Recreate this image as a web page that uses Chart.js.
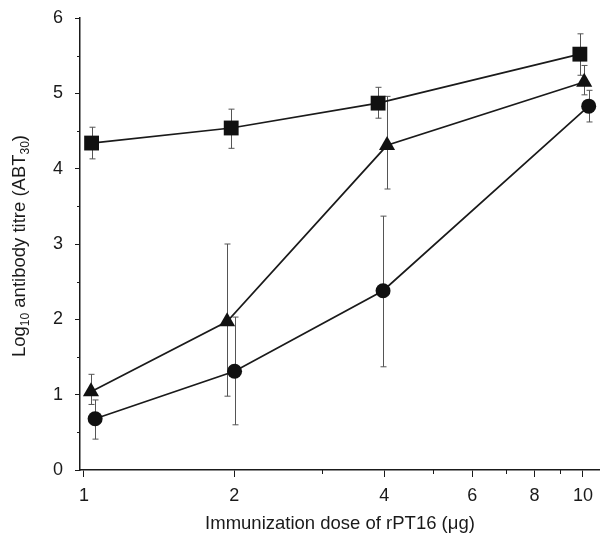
<!DOCTYPE html>
<html><head><meta charset="utf-8">
<script src="https://cdn.jsdelivr.net/npm/chart.js@4.4.1/dist/chart.umd.min.js"></script>
<style>html,body{margin:0;padding:0;background:#fff}#wrap{width:600px;height:536px;position:relative}</style>
</head><body><div id="wrap"><canvas id="c"></canvas></div>
<script>
const xTicks = [1, 2, 4, 6, 8, 10];
const xMinorTicks = [3, 5, 7, 9];
const yTicks = [0, 1, 2, 3, 4, 5, 6];
const yMinorTicks = [0.5, 1.5, 2.5, 3.5, 4.5, 5.5];

const squareX = [1.036, 1.973, 3.886, 9.86];
const squareY = [4.34, 4.54, 4.87, 5.52];
const squareHi = [4.55, 4.79, 5.08, 5.79];
const squareLo = [4.13, 4.27, 4.67, 5.24];

const triangleX = [1.033, 1.936, 4.05, 10.06];
const triangleY = [1.04, 1.97, 4.31, 5.15];
const triangleHi = [1.27, 3.00, 4.96, 5.37];
const triangleLo = [0.87, 0.98, 3.73, 4.98];

const circleX = [1.053, 2.004, 3.976, 10.27];
const circleY = [0.68, 1.31, 2.38, 4.83];
const circleHi = [0.93, 2.03, 3.37, 5.04];
const circleLo = [0.41, 0.60, 1.37, 4.62];

const FONT = "'Liberation Sans', Arial, Helvetica, sans-serif";
const INK = '#1a1a1a';

function pts(xs, ys) { return xs.map((x, i) => ({ x: x, y: ys[i] })); }

const series = [
  { x: squareX, y: squareY, hi: squareHi, lo: squareLo, style: 'rect', r: 10.5 },
  { x: triangleX, y: triangleY, hi: triangleHi, lo: triangleLo, style: 'triangle', r: 9.3 },
  { x: circleX, y: circleY, hi: circleHi, lo: circleLo, style: 'circle', r: 7.5 }
];

const errorBars = {
  id: 'errorBars',
  beforeDatasetsDraw(chart) {
    const ctx = chart.ctx, xs = chart.scales.x, ys = chart.scales.y;
    ctx.save();
    ctx.strokeStyle = '#555';
    ctx.lineWidth = 1;
    series.forEach(s => {
      s.x.forEach((xv, i) => {
        const px = Math.round(xs.getPixelForValue(xv)) + 0.5;
        const ph = ys.getPixelForValue(s.hi[i]);
        const pl = ys.getPixelForValue(s.lo[i]);
        ctx.beginPath();
        ctx.moveTo(px, ph); ctx.lineTo(px, pl);
        ctx.moveTo(px - 3, ph); ctx.lineTo(px + 3, ph);
        ctx.moveTo(px - 3, pl); ctx.lineTo(px + 3, pl);
        ctx.stroke();
      });
    });
    ctx.restore();
  }
};

const decor = {
  id: 'decor',
  afterDraw(chart) {
    const ctx = chart.ctx, xs = chart.scales.x, ys = chart.scales.y, ca = chart.chartArea;
    ctx.save();
    ctx.strokeStyle = INK;
    ctx.lineWidth = 1;
    ctx.beginPath();
    xMinorTicks.forEach(v => {
      const px = Math.round(xs.getPixelForValue(v)) + 0.5;
      ctx.moveTo(px, ca.bottom); ctx.lineTo(px, ca.bottom + 4);
    });
    yMinorTicks.forEach(v => {
      const py = Math.round(ys.getPixelForValue(v)) + 0.5;
      ctx.moveTo(ca.left, py); ctx.lineTo(ca.left - 3, py);
    });
    ctx.stroke();

    ctx.fillStyle = INK;
    ctx.textBaseline = 'alphabetic';
    // x title
    ctx.font = '18.5px ' + FONT;
    ctx.textAlign = 'center';
    ctx.fillText('Immunization dose of rPT16 (\u03bcg)', (ca.left + ca.right) / 2, 529);

    // y title with subscripts
    const parts = [
      { t: 'Log', sub: false }, { t: '10', sub: true },
      { t: ' antibody titre (ABT', sub: false }, { t: '30', sub: true },
      { t: ')', sub: false }
    ];
    const big = '18.5px ' + FONT, small = '12px ' + FONT;
    let total = 0;
    parts.forEach(p => { ctx.font = p.sub ? small : big; p.w = ctx.measureText(p.t).width; total += p.w; });
    ctx.translate(25, 246);
    ctx.rotate(-Math.PI / 2);
    ctx.textAlign = 'left';
    let cx = -total / 2;
    parts.forEach(p => {
      ctx.font = p.sub ? small : big;
      ctx.fillText(p.t, cx, p.sub ? 4 : 0);
      cx += p.w;
    });
    ctx.restore();
  }
};

new Chart(document.getElementById('c'), {
  type: 'line',
  data: {
    datasets: series.map(s => ({
      data: pts(s.x, s.y),
      showLine: true,
      borderColor: INK,
      borderWidth: 1.7,
      tension: 0,
      pointStyle: s.style,
      pointRadius: s.r,
      pointHoverRadius: s.r,
      pointBackgroundColor: '#111',
      pointBorderColor: '#111',
      pointBorderWidth: 0,
      clip: false
    }))
  },
  options: {
    responsive: true,
    maintainAspectRatio: false,
    animation: false,
    events: [],
    layout: { autoPadding: false, padding: { top: 18, left: 0, right: 0, bottom: 0 } },
    plugins: { legend: { display: false }, tooltip: { enabled: false }, title: { display: false } },
    scales: {
      x: {
        type: 'logarithmic',
        min: 0.982,
        max: 10.82,
        afterBuildTicks(scale) { scale.ticks = xTicks.map(v => ({ value: v })); },
        afterFit(scale) { scale.height = 66; scale.paddingLeft = 0; scale.paddingRight = 0; },
        ticks: {
          autoSkip: false, maxRotation: 0,
          color: INK,
          font: { family: FONT, size: 18 },
          padding: 8,
          callback: v => String(v)
        },
        grid: { display: true, drawOnChartArea: false, drawTicks: true, tickLength: 7, tickColor: INK, tickWidth: 1 },
        border: { display: true, color: INK, width: 1.5 }
      },
      y: {
        type: 'linear',
        min: 0,
        max: 6,
        afterBuildTicks(scale) { scale.ticks = yTicks.map(v => ({ value: v })); },
        afterFit(scale) { scale.width = 80; scale.paddingTop = 0; scale.paddingBottom = 0; },
        ticks: {
          color: INK,
          font: { family: FONT, size: 18 },
          padding: 12,
          callback: v => String(v)
        },
        grid: { display: true, drawOnChartArea: false, drawTicks: true, tickLength: 5, tickColor: INK, tickWidth: 1 },
        border: { display: true, color: INK, width: 1.5 }
      }
    }
  },
  plugins: [errorBars, decor]
});
</script>
</body></html>
